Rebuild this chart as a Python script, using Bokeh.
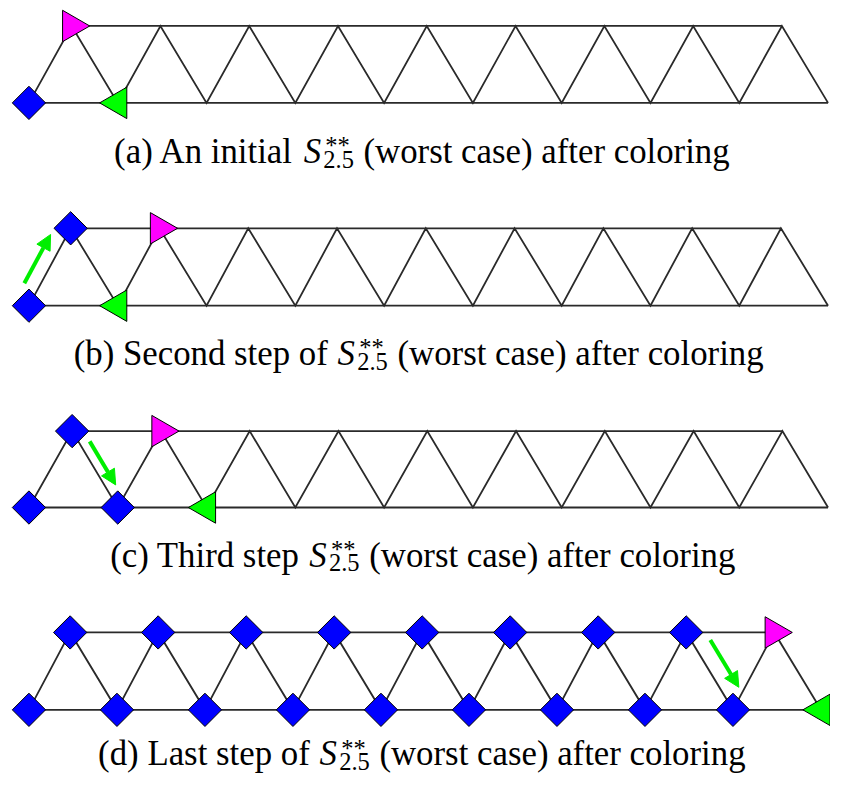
import numpy as np
from bokeh.plotting import figure
from bokeh.models import Range1d, Arrow, NormalHead
from bokeh.core.properties import value
from bokeh.embed import file_html
from bokeh.resources import INLINE

# ---------------- data ----------------
panel_tags = ["(a)", "(b)", "(c)", "(d)"]
caption_lead = ["An initial", "Second step of", "Third step", "Last step of"]
caption_symbol = "S"
caption_sup = "**"
caption_sub = "2.5"
caption_tail = "(worst case) after coloring"
n_bottom = 10          # vertices on the lower row
n_top = 9              # vertices on the upper row
# vertex index k along the zig-zag: even k -> lower row, odd k -> upper row
blue_vertices = [[0], [0, 1], [0, 1, 2], list(range(17))]
magenta_vertex = [1, 3, 3, 17]
green_vertex = [2, 2, 4, 18]
move_from = [None, 0, 1, 15]
move_to = [None, 1, 2, 16]

# ---------------- layout (reference pixel units) ----------------
REF_W, REF_H = 846, 790
W, H = 830, 774
S = W / REF_W
panel_geom = [
    dict(x0=29, sp=90.5, off=43.5, yt=26.0, yb=104.5),
    dict(x0=29, sp=90.5, off=42.5, yt=232.5, yb=311.5),
    dict(x0=29, sp=90.5, off=44.0, yt=439.5, yb=517.5),
    dict(x0=29, sp=89.7, off=42.0, yt=645.0, yb=724.0),
]
caption_base = [154, 360, 566, 769]
caption_sx = [309.0, 343.6, 314.8, 325.2]
arrow_style = [None, (0.20, 0.83, 15), (0.20, 0.77, 10), (0.21, 0.82, 17)]
MAIN_FS = 35.5
SCRIPT_FS = 25

LINE_COLOR = "#2a2a2a"
BLUE, MAGENTA, GREEN, ARROW = "#0000ff", "#ff00ff", "#00ff00", "#00ee00"
FONT = value("Liberation Serif")

p = figure(width=W, height=H, x_range=Range1d(0, REF_W), y_range=Range1d(0, REF_H),
           output_backend="svg", toolbar_location=None, min_border=0)
p.axis.visible = False
p.grid.visible = False
p.outline_line_color = None
p.background_fill_color = "white"


def vx(g, k):
    i = k // 2
    return g["x0"] + i * g["sp"] if k % 2 == 0 else g["x0"] + g["off"] + i * g["sp"]


def vy(g, k):
    return REF_H - (g["yb"] if k % 2 == 0 else g["yt"])


for pi, g in enumerate(panel_geom):
    ks = list(range(n_bottom + n_top))
    # zig-zag
    p.line([vx(g, k) for k in ks], [vy(g, k) for k in ks],
           line_color=LINE_COLOR, line_width=1.8, line_join="miter")
    # horizontal rows
    top_k = [2 * i + 1 for i in range(n_top)]
    bot_k = [2 * i for i in range(n_bottom)]
    p.line([vx(g, top_k[0]), vx(g, top_k[-1])], [vy(g, top_k[0])] * 2,
           line_color=LINE_COLOR, line_width=1.8)
    p.line([vx(g, bot_k[0]), vx(g, bot_k[-1])], [vy(g, bot_k[0])] * 2,
           line_color=LINE_COLOR, line_width=1.8)

    # markers
    bv = blue_vertices[pi]
    p.scatter([vx(g, k) for k in bv], [vy(g, k) for k in bv], marker="square",
              size=24 * S, angle=np.pi / 4, fill_color=BLUE, line_color="black", line_width=1)
    mk = magenta_vertex[pi]
    p.scatter([vx(g, mk)], [vy(g, mk)], marker="triangle", size=32 * S, angle=-np.pi / 2,
              fill_color=MAGENTA, line_color="black", line_width=1)
    gk = green_vertex[pi]
    p.scatter([vx(g, gk)], [vy(g, gk)], marker="triangle", size=32 * S, angle=np.pi / 2,
              fill_color=GREEN, line_color="black", line_width=1)

    # arrow (parallel to the moved-along edge, offset sideways)
    if move_from[pi] is not None:
        ts, te, d = arrow_style[pi]
        x0, y0 = vx(g, move_from[pi]), vy(g, move_from[pi])
        x1, y1 = vx(g, move_to[pi]), vy(g, move_to[pi])
        dx, dy = x1 - x0, y1 - y0
        L = np.hypot(dx, dy)
        ux, uy = dx / L, dy / L
        nx, ny = -uy, ux
        xs0, ys0 = x0 + ts * dx + d * nx, y0 + ts * dy + d * ny
        xs1, ys1 = x0 + te * dx + d * nx, y0 + te * dy + d * ny
        p.add_layout(Arrow(x_start=xs0, y_start=ys0, x_end=xs1, y_end=ys1,
                           line_color=ARROW, line_width=4,
                           end=NormalHead(size=15, fill_color=ARROW, line_color=ARROW)))

    # caption
    base = REF_H - caption_base[pi]
    sx = caption_sx[pi]
    p.text([sx - 10], [base], text=[panel_tags[pi] + " " + caption_lead[pi]],
           text_align="right", text_baseline="alphabetic", text_font=FONT,
           text_font_size=f"{MAIN_FS * S:.1f}px", text_color="black")
    p.text([sx], [base], text=[caption_symbol], text_align="left", text_baseline="alphabetic",
           text_font=FONT, text_font_style="italic", text_font_size=f"{MAIN_FS * S:.1f}px",
           text_color="black")
    p.text([sx + 22], [base + 6], text=[caption_sup], text_align="left",
           text_baseline="alphabetic", text_font=FONT, text_font_size=f"{SCRIPT_FS * S:.1f}px",
           text_color="black")
    p.text([sx + 20], [base - 8], text=[caption_sub], text_align="left",
           text_baseline="alphabetic", text_font=FONT, text_font_size=f"{SCRIPT_FS * S:.1f}px",
           text_color="black")
    p.text([sx + 61], [base], text=[caption_tail], text_align="left",
           text_baseline="alphabetic", text_font=FONT, text_font_size=f"{MAIN_FS * S:.1f}px",
           text_color="black")

open("out.html", "w").write(file_html(p, INLINE))
